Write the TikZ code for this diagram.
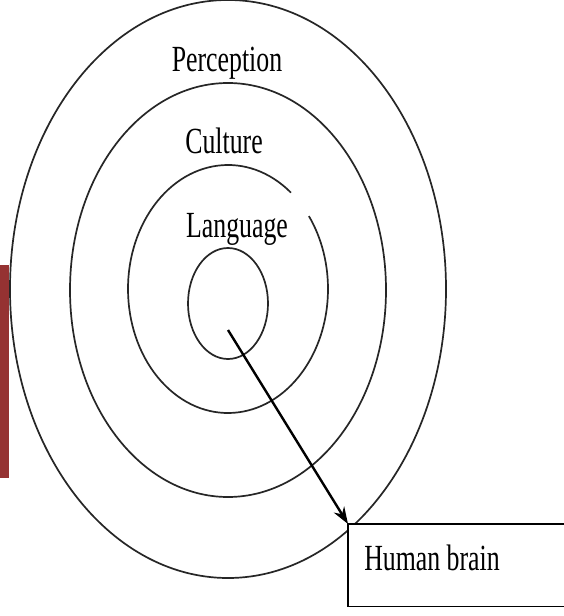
\documentclass[tikz,border=0pt]{standalone}
\usepackage{fontspec}
\setmainfont{Liberation Serif}
\usetikzlibrary{shapes.geometric,arrows.meta,calc}
\definecolor{barred}{HTML}{953232}
\tikzset{
  ring/.style={draw=black!85, line width=1.7bp, ellipse, inner sep=0pt, fill=none},
  lbl/.style={font=\fontsize{37}{40}\selectfont, xscale=0.7, anchor=base, inner sep=0pt, text=black},
  conn/.style={draw=black, line width=2.4bp, -{Stealth[length=17bp,width=12bp]}},
}
\begin{document}
\begin{tikzpicture}[x=1bp,y=-1bp]
\useasboundingbox (0,0) rectangle (564,616);
\fill[white] (0,0) rectangle (564,616);
\fill[barred] (0,265) rectangle (9,478);
% rings
\node[ring, minimum width=436bp, minimum height=578bp] (e1) at (228,289) {};
\node[ring, minimum width=316bp, minimum height=414bp] (e2) at (228,290) {};
\coordinate (c3) at (228,289);
\draw[draw=black!85, line width=1.7bp] ($(c3)+(-51:100 and 124)$) arc[start angle=-51, end angle=-396, x radius=100, y radius=124];
\node[ring, minimum width=80bp, minimum height=111bp] (e4) at (228,303.5) {};
% labels
\node[lbl] (perc) at (227,72) {Perception};
\node[lbl] (cult) at (224,154) {Culture};
\node[lbl] (lang) at (237,237) {Language};
% box (open to the right edge)
\node[rectangle, fill=white, anchor=north west, minimum width=220bp, minimum height=82bp, inner sep=0pt] (box) at (348,524) {};
\draw[black, line width=1.8bp] (box.north east) -- (box.north west) -- (box.south west) -- (box.south east);
\node[lbl] (hb) at (432,570) {Human brain};
% arrow
\coordinate (src) at (228,330);
\draw[conn] (src) -- (box.north west);
\end{tikzpicture}
\end{document}
